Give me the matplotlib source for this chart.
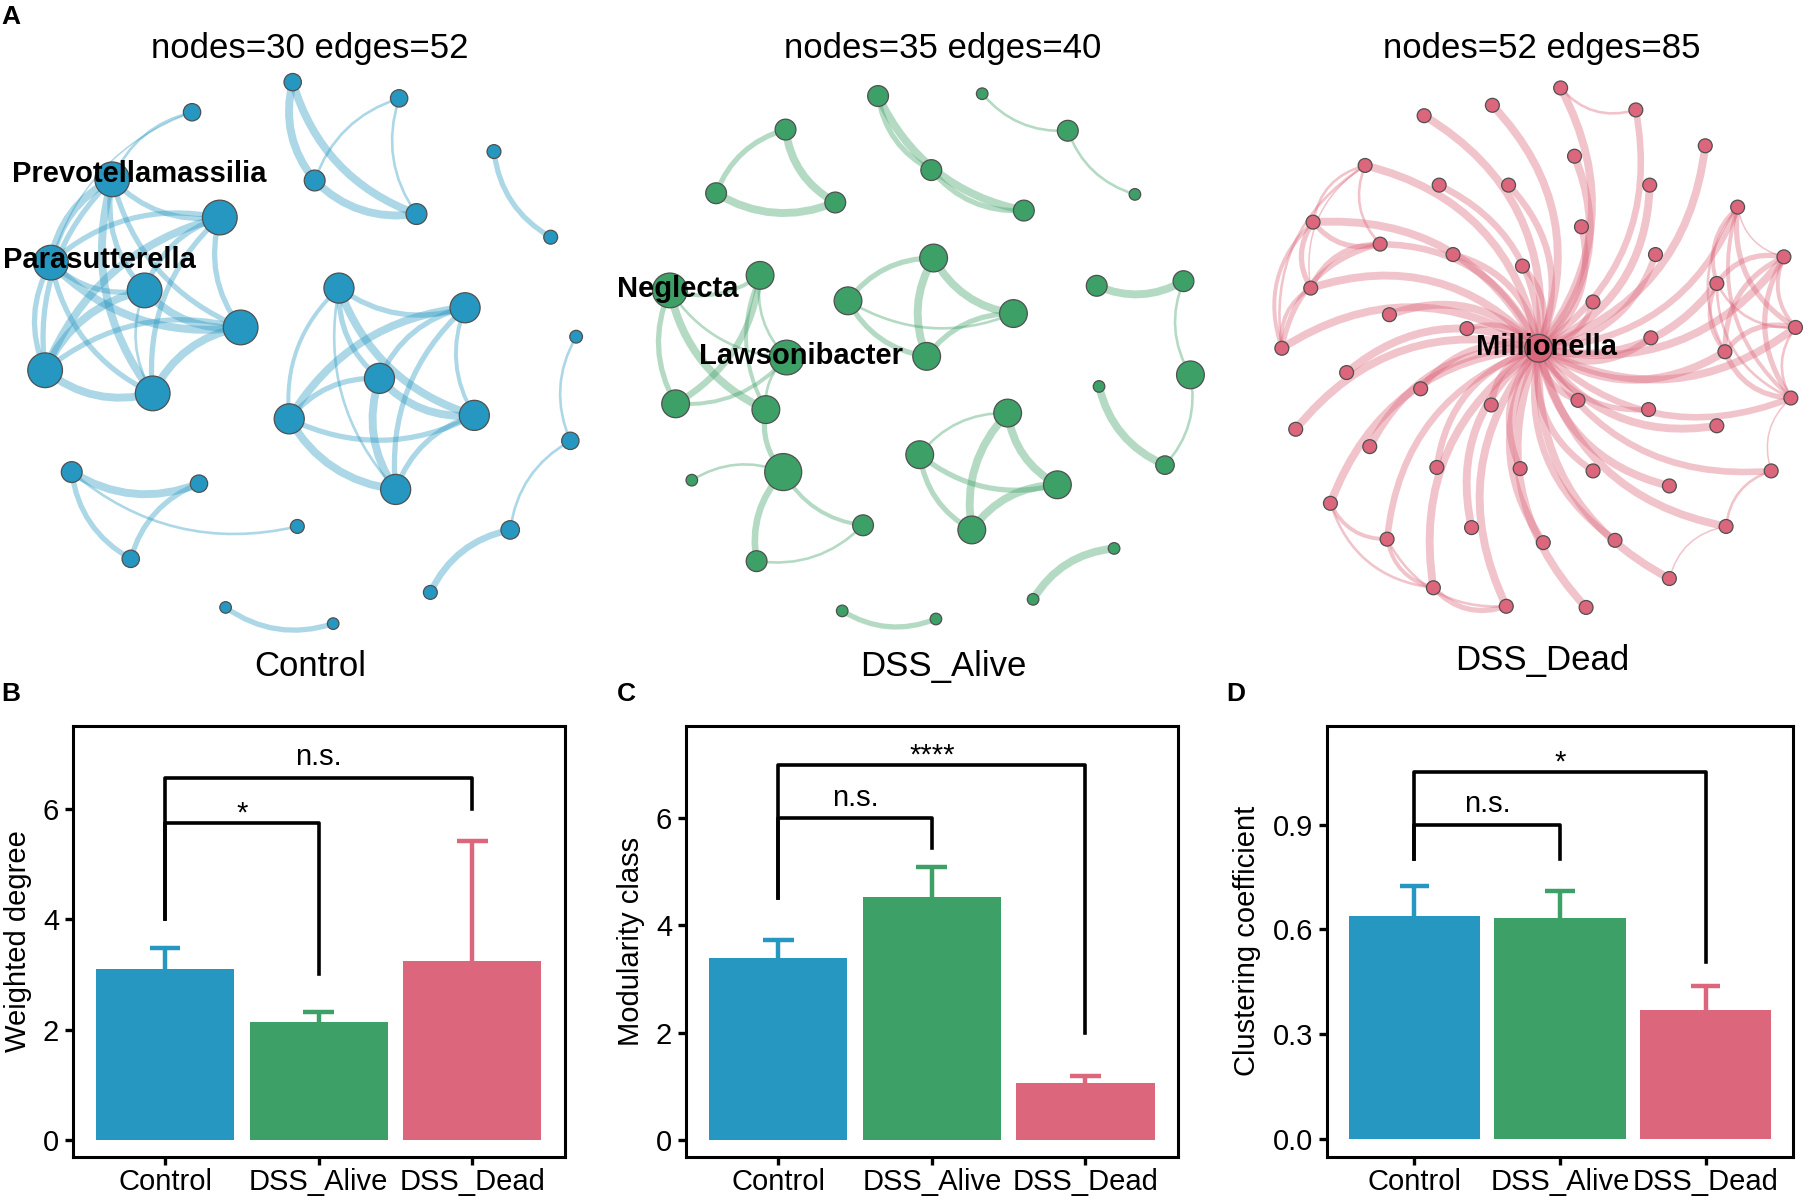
import matplotlib.pyplot as plt
from matplotlib.patches import Circle, FancyArrowPatch

plt.rcParams['font.family'] = ['Liberation Sans', 'DejaVu Sans']

groups = ["Control", "DSS_Alive", "DSS_Dead"]
group_colors = ["#2697c0", "#3da066", "#dc667b"]

# ---- network layouts: node x / y (layout px), node radius, edges (i, j, weight)
ctrl_x = [97, 190, 44, 125, 208, 39, 132, 166, 253, 345, 272, 360, 427, 476,
          293, 402, 328, 250, 410, 342, 498, 493, 441, 372, 62, 172, 113, 257, 195, 288]
ctrl_y = [155, 188, 227, 251, 283, 320, 340, 97, 71, 85, 156, 185, 131, 205,
          249, 266, 327, 362, 359, 423, 291, 381, 458, 512, 408, 418, 483, 455, 525, 539]
ctrl_r = [15, 15, 15, 15, 15, 15, 15, 7.5, 7.5, 7.5, 9, 9, 6, 6,
          13, 13, 13, 13, 13, 13, 5.5, 7.5, 8, 6, 9, 7.5, 7.5, 6, 5, 5]
ctrl_edges = [(0, 1, 2), (0, 2, 3), (0, 3, 2), (0, 4, 2), (0, 5, 2), (0, 6, 3),
              (1, 2, 2), (1, 3, 2), (1, 4, 2), (1, 5, 3), (1, 6, 2), (2, 3, 2),
              (2, 4, 3), (2, 5, 2), (2, 6, 2), (3, 4, 3), (3, 5, 3), (3, 6, 1),
              (4, 5, 2), (4, 6, 3), (5, 6, 3),
              (7, 0, 1), (7, 2, 0.6),
              (8, 10, 3), (8, 11, 3), (10, 11, 3), (9, 10, 1), (9, 11, 1),
              (12, 13, 2),
              (14, 15, 2), (14, 16, 2), (14, 17, 1.5), (14, 18, 3), (14, 19, 1),
              (15, 16, 2), (15, 17, 3), (15, 18, 1.5), (15, 19, 2), (16, 17, 2),
              (16, 18, 3), (16, 19, 3), (17, 18, 2), (17, 19, 3), (18, 19, 2),
              (20, 21, 1), (21, 22, 1), (22, 23, 2.5),
              (24, 25, 3), (24, 26, 2), (25, 26, 2), (24, 27, 1),
              (28, 29, 2)]

alive_x = [759, 849, 923, 679, 619, 722, 805, 885, 579, 657, 680, 584, 662, 677,
           598, 746, 654, 807, 733, 876, 801, 871, 795, 914, 840, 948, 1023, 1029,
           950, 1007, 963, 893, 728, 809, 981]
alive_y = [83, 81, 113, 112, 167, 175, 147, 182, 251, 238, 309, 349, 354, 408,
           415, 454, 485, 223, 260, 271, 308, 357, 393, 419, 458, 247, 243, 324,
           334, 402, 474, 518, 528, 535, 168]
alive_r = [9, 5, 9, 9, 9, 9, 9, 9, 15, 12, 15, 12, 12, 16, 5, 9, 9, 12, 12, 12,
           12, 12, 12, 12, 12, 9, 9, 12, 5, 8, 5, 5, 5, 5, 5]
alive_edges = [(0, 7, 3), (0, 6, 2), (6, 7, 2),
               (1, 2, 1), (2, 34, 1),
               (3, 4, 2), (3, 5, 3), (4, 5, 3),
               (8, 9, 1.5), (8, 11, 2), (8, 12, 3), (11, 9, 2.5), (11, 10, 1.5),
               (9, 12, 1.5), (12, 13, 2), (13, 14, 1), (13, 15, 1.5), (13, 16, 2.5),
               (16, 15, 1), (8, 10, 1), (9, 10, 1), (10, 12, 1),
               (17, 18, 2), (17, 19, 3), (17, 20, 3), (18, 19, 1), (18, 20, 2), (19, 20, 2),
               (21, 22, 1), (21, 23, 3), (21, 24, 3), (22, 23, 2), (22, 24, 2), (23, 24, 3),
               (25, 26, 3), (26, 27, 1), (28, 29, 3), (29, 27, 1),
               (30, 31, 3), (32, 33, 2)]

dead_x = [1349, 1414, 1290, 1231, 1474, 1361, 1180, 1244, 1304, 1426, 1502, 1135,
          1367, 1193, 1431, 1256, 1316, 1542, 1133, 1484, 1377, 1201, 1268, 1552,
          1427, 1108, 1491, 1330, 1164, 1228, 1289, 1364, 1425, 1548, 1120, 1484,
          1184, 1242, 1314, 1377, 1531, 1443, 1150, 1272, 1199, 1334, 1396, 1492,
          1239, 1443, 1302, 1371]
dead_y = [76, 95, 91, 100, 126, 135, 143, 160, 160, 160, 179, 192, 196, 211, 220,
          220, 230, 222, 249, 245, 261, 272, 284, 283, 292, 301, 304, 301, 322, 336,
          350, 346, 354, 344, 371, 368, 386, 404, 405, 407, 407, 420, 435, 456, 466,
          469, 467, 455, 508, 500, 524, 525]
dead_r = [6] * 52
dead_r[27] = 12
dead_hub = 27
dead_hub_links = [0, 1, 2, 3, 4, 5, 6, 7, 8, 9, 10, 11, 12, 13, 14, 15, 16, 17,
                  18, 19, 20, 21, 22, 23, 24, 25, 26, 28, 29, 30, 31, 32, 33, 34,
                  35, 36, 37, 38, 39, 40, 41, 42, 43, 44, 45, 46, 47, 48, 49, 50, 51]
dead_hub_w = [3, 2.5, 3, 3, 3, 3, 3, 2.5, 2.5, 3, 2.5, 3, 2.5, 2.5, 2.5, 2.5, 2,
              3, 3, 3, 2, 3, 2, 3, 2.5, 3, 3, 3, 2.5, 2.5, 2.5, 2, 2.5, 3,
              3, 3, 2.5, 2.5, 2.5, 2.5, 3, 3, 3, 2.5, 3, 2.5, 3, 3, 3, 3, 3]
dead_other_edges = [(6, 11, 1), (6, 13, 1), (6, 18, 0.6), (6, 25, 1), (11, 13, 2),
                    (11, 18, 2), (11, 25, 1.5), (13, 18, 2), (13, 25, 2), (18, 25, 1.5),
                    (10, 17, 0.6), (10, 19, 1.5), (10, 23, 2), (10, 26, 1), (10, 33, 1.5),
                    (17, 19, 2), (17, 23, 1.5), (17, 26, 2), (17, 33, 2), (19, 23, 1),
                    (19, 26, 1.5), (19, 33, 1), (23, 26, 2), (23, 33, 1), (26, 33, 2),
                    (0, 1, 1),
                    (42, 44, 1.5), (42, 48, 1), (44, 48, 1.5), (44, 50, 1), (48, 50, 2),
                    (47, 49, 0.6), (40, 47, 1), (33, 40, 0.6)]
dead_edges = [(dead_hub, j, w) for j, w in zip(dead_hub_links, dead_hub_w)] + dead_other_edges

hub_labels = [("Prevotellamassilia", 10, 150), ("Parasutterella", 3, 225),
              ("Neglecta", 533, 250), ("Lawsonibacter", 604, 308),
              ("Millionella", 1276, 300)]

# ---- bar panels: mean and upper error
weighted_mean = [3.10, 2.15, 3.25]
weighted_err = [0.37, 0.18, 2.17]
modularity_mean = [3.39, 4.54, 1.07]
modularity_err = [0.34, 0.55, 0.13]
clustering_mean = [0.637, 0.632, 0.368]
clustering_err = [0.086, 0.077, 0.070]

# brackets: (x0, x1, y_left, y_top, y_right, label)
weighted_sig = [(0, 1, 4.0, 5.73, 3.0, "*"), (0, 2, 4.0, 6.56, 6.0, "n.s.")]
modularity_sig = [(0, 1, 4.52, 6.0, 5.45, "n.s."), (0, 2, 4.52, 7.0, 2.0, "****")]
clustering_sig = [(0, 1, 0.80, 0.90, 0.80, "n.s."), (0, 2, 0.80, 1.052, 0.505, "*")]

fig = plt.figure(figsize=(18.14, 12.01), dpi=100)
net_ax = fig.add_axes([0, 0, 1, 1])
net_ax.set_xlim(0, 1568)
net_ax.set_ylim(1038, 0)
net_ax.axis('off')


def draw_network(xs, ys, rs, edges, color, rad):
    for i, j, w in edges:
        net_ax.add_patch(FancyArrowPatch((xs[i], ys[i]), (xs[j], ys[j]),
                                         connectionstyle=f"arc3,rad={rad}", arrowstyle='-',
                                         lw=w * 1.9, color=color, alpha=0.38,
                                         shrinkA=0, shrinkB=0, zorder=1))
    for x, y, r in zip(xs, ys, rs):
        net_ax.add_patch(Circle((x, y), r, fc=color, ec='#505050', lw=0.9, zorder=3))
    return len(xs), len(edges)


nets = [(ctrl_x, ctrl_y, ctrl_r, ctrl_edges, 268, 576, 0.25),
        (alive_x, alive_y, alive_r, alive_edges, 815, 576, 0.25),
        (dead_x, dead_y, dead_r, dead_edges, 1333, 571, 0.32)]
for (xs, ys, rs, edges, cx, ly, rad), name, col in zip(nets, groups, group_colors):
    n_nodes, n_edges = draw_network(xs, ys, rs, edges, col, rad)
    net_ax.text(cx, 42, f"nodes={n_nodes} edges={n_edges}", ha='center', va='center', fontsize=25)
    net_ax.text(cx, ly, name, ha='center', va='center', fontsize=25)

for lab, x, y in hub_labels:
    net_ax.text(x, y, lab, ha='left', va='center', fontsize=21, fontweight='bold', zorder=5)

for letter, x, y in [("A", 9, 15), ("B", 9, 600), ("C", 541, 600), ("D", 1068, 600)]:
    net_ax.text(x, y, letter, ha='center', va='center', fontsize=19, fontweight='bold')

panels = [
    ([0.0402, 0.0366, 0.2710, 0.3593], "Weighted degree", weighted_mean, weighted_err,
     (-0.30, 7.5), [0, 2, 4, 6], ["0", "2", "4", "6"], weighted_sig, -0.083),
    ([0.3782, 0.0366, 0.2710, 0.3593], "Modularity class", modularity_mean, modularity_err,
     (-0.32, 7.73), [0, 2, 4, 6], ["0", "2", "4", "6"], modularity_sig, -0.083),
    ([0.7315, 0.0366, 0.2570, 0.3593], "Clustering coefficient", clustering_mean, clustering_err,
     (-0.053, 1.184), [0, 0.3, 0.6, 0.9], ["0.0", "0.3", "0.6", "0.9"], clustering_sig, -0.142),
]
sig_offset = {"n.s.": 9, "*": 1, "****": 1}

for rect, ylab, means, errs, ylim, yt, ytl, sigs, lab_x in panels:
    ax = fig.add_axes(rect)
    xpos = list(range(len(groups)))
    ax.bar(xpos, means, width=0.9, color=group_colors, zorder=2)
    for x, m, e, c in zip(xpos, means, errs, group_colors):
        ax.vlines(x, m, m + e, color=c, lw=3.2, zorder=3)
        ax.hlines(m + e, x - 0.1, x + 0.1, color=c, lw=3.2, zorder=3)
    for x0, x1, yl, ytop, yr, lab in sigs:
        ax.plot([x0, x0, x1, x1], [yl, ytop, ytop, yr], color='black', lw=2.6, zorder=4)
        ax.annotate(lab, ((x0 + x1) / 2, ytop), xytext=(0, sig_offset[lab]),
                    textcoords='offset points', ha='center', va='baseline', fontsize=21)
    ax.set_xlim(-0.6, 2.6)
    ax.set_ylim(*ylim)
    ax.set_xticks(xpos)
    ax.set_xticklabels(groups)
    ax.set_yticks(yt)
    ax.set_yticklabels(ytl)
    ax.tick_params(labelsize=21, length=6, width=2.4, direction='out')
    ax.tick_params(axis='x', pad=2)
    ax.tick_params(axis='y', pad=4)
    for sp in ax.spines.values():
        sp.set_linewidth(2.2)
    ax.set_ylabel(ylab, fontsize=21)
    ax.yaxis.set_label_coords(lab_x, 0.5)

fig.savefig("out.png", dpi=100)
